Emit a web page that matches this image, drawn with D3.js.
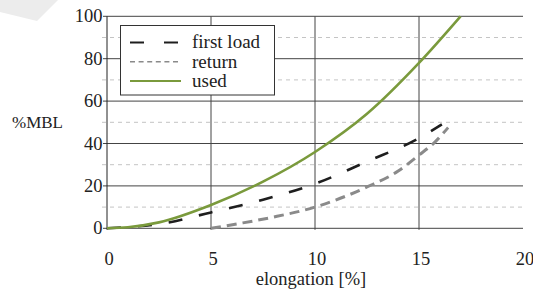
<!DOCTYPE html>
<html lang='en'>
<head>
  <meta charset='UTF-8'>
  <title>%MBL vs elongation</title>
  <script src="https://d3js.org/d3.v7.min.js"></script>
</head>
<body style="margin:0;background:#fff">
  <script>

  // data: [elongation %, %MBL]
  var firstLoad = [[0, 0], [1, 0.6], [2.5, 2], [5, 7.5], [7.5, 13.5], [10, 21], [12.5, 31.5], [15, 42.5], [16.1, 49]];
  var returnCurve = [[5, 0], [6.5, 2.5], [8, 5.3], [10, 10], [12.5, 19.5], [14, 27], [15, 34.5], [15.8, 41], [16.4, 47.5]];
  var used = [[0, 0], [1, 0.5], [2.5, 2.8], [5, 11], [7.5, 22], [10, 36], [12.5, 54], [15, 78], [17, 100]];

  var xTicks = [0, 5, 10, 15, 20];
  var yMajor = [0, 20, 40, 60, 80, 100];
  var yMinor = [10, 30, 50, 70, 90];

  var series = [
    { name: 'first load', values: firstLoad, color: '#1e1e1e', width: 2.6, dash: '14,17', legendDash: '14,20', legendWidth: 2 },
    { name: 'return', values: returnCurve, color: '#8a8a8a', width: 3, dash: '10,6', legendDash: '5,3.6', legendWidth: 1.6 },
    { name: 'used', values: used, color: '#7a9a3c', width: 2.6, dash: null, legendDash: null, legendWidth: 2 }
  ];

  var svgWidth = 533;
  var svgHeight = 289;
  var margin = { top: 16.3, right: 10, bottom: 60.7, left: 107 };
  var width = svgWidth - margin.left - margin.right;
  var height = svgHeight - margin.top - margin.bottom;

  var svg = d3.select('body').append('svg')
    .attr('width', svgWidth)
    .attr('height', svgHeight);

  // all texts use the same serif face
  function serif(sel, size) {
    return sel.style('font-family', '"Liberation Serif"')
      .style('font-size', size + 'px')
      .style('fill', '#222');
  }

  // faint decorative shape in the corner
  svg.append('path')
    .attr('d', 'M0,0 L58,0 L37,21 L0,12 Z')
    .attr('fill', '#ececec');

  var x = d3.scaleLinear().domain([0, 20]).range([0, width]);
  var y = d3.scaleLinear().domain([0, 100]).range([height, 0]);

  var g = svg.append('g').attr('transform', 'translate(' + margin.left + ',' + margin.top + ')');

  // minor dashed gridlines
  g.selectAll('.minor')
    .data(yMinor)
    .enter()
    .append('line')
    .attr('x1', -5).attr('x2', width)
    .attr('y1', function (d) { return y(d); })
    .attr('y2', function (d) { return y(d); })
    .attr('stroke', '#c4c4c4')
    .attr('stroke-dasharray', '4,4');

  // major gridlines
  g.selectAll('.major')
    .data(yMajor)
    .enter()
    .append('line')
    .attr('x1', -4).attr('x2', width)
    .attr('y1', function (d) { return y(d); })
    .attr('y2', function (d) { return y(d); })
    .attr('stroke', '#444')
    .attr('stroke-width', 1);

  g.selectAll('.vgrid')
    .data(xTicks.slice(0, 4))
    .enter()
    .append('line')
    .attr('x1', function (d) { return x(d); })
    .attr('x2', function (d) { return x(d); })
    .attr('y1', 0).attr('y2', height + 1.5)
    .attr('stroke', function (d) { return d === 0 ? '#222' : '#444'; })
    .attr('stroke-width', 1);

  // tick labels
  serif(g.selectAll('.ylab')
    .data(yMajor)
    .enter()
    .append('text')
    .attr('x', -4.5)
    .attr('y', function (d) { return y(d); })
    .attr('dy', '0.33em')
    .attr('text-anchor', 'end'), 18.5)
    .text(function (d) { return d; });

  serif(g.selectAll('.xlab')
    .data(xTicks)
    .enter()
    .append('text')
    .attr('x', function (d) { return x(d) + 2; })
    .attr('y', height + 37)
    .attr('text-anchor', 'middle'), 18.5)
    .text(function (d) { return d; });

  // curves
  var line = d3.line()
    .x(function (d) { return x(d[0]); })
    .y(function (d) { return y(d[1]); })
    .curve(d3.curveMonotoneX);

  g.selectAll('.curve')
    .data(series)
    .enter()
    .append('path')
    .attr('class', 'curve')
    .attr('d', function (d) { return line(d.values); })
    .attr('fill', 'none')
    .attr('stroke', function (d) { return d.color; })
    .attr('stroke-width', function (d) { return d.width; })
    .attr('stroke-dasharray', function (d) { return d.dash; });

  // axis titles
  serif(svg.append('text')
    .attr('x', 12)
    .attr('y', 128), 17)
    .text('%MBL');

  serif(svg.append('text')
    .attr('x', 311)
    .attr('y', 285)
    .attr('text-anchor', 'middle'), 18.5)
    .text('elongation [%]');

  // legend
  var legend = svg.append('g');

  legend.append('rect')
    .attr('x', 120.5).attr('y', 25.5)
    .attr('width', 154).attr('height', 69.5)
    .attr('fill', '#fff')
    .attr('stroke', '#333');

  var rows = legend.selectAll('.row')
    .data(series)
    .enter()
    .append('g')
    .attr('transform', function (d, i) { return 'translate(130,' + (42.5 + i * 19.3) + ')'; });

  rows.append('line')
    .attr('x1', 0).attr('x2', 51)
    .attr('stroke', function (d) { return d.color; })
    .attr('stroke-width', function (d) { return d.legendWidth; })
    .attr('stroke-dasharray', function (d) { return d.legendDash; });

  serif(rows.append('text')
    .attr('x', 62)
    .attr('dy', '0.3em'), 19)
    .text(function (d) { return d.name; });
  </script>
</body>
</html>
